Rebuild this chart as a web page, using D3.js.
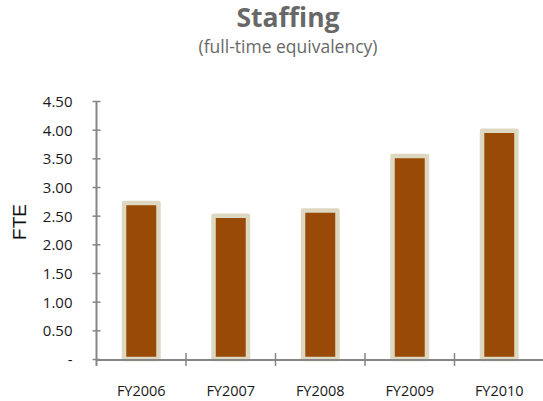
<!DOCTYPE html>
<html>
<head>
<meta charset="utf-8">
<script src="https://cdn.jsdelivr.net/npm/d3@7"></script>
<style>
  html, body { margin: 0; padding: 0; background: #fff; }
  svg { display: block; }
</style>
</head>
<body>
<script>
// Staffing levels by fiscal year, in full-time equivalents
const categories = ["FY2006", "FY2007", "FY2008", "FY2009", "FY2010"];
const fteValues = [2.72, 2.50, 2.59, 3.54, 3.98];
const yTickValues = [0, 0.5, 1, 1.5, 2, 2.5, 3, 3.5, 4, 4.5];

const W = 543, H = 401;
const axisColor = "#868686";
const barFill = "#994a07";
const barEdge = "#ddd8c2";

const svg = d3.select("body").append("svg")
  .attr("width", W).attr("height", H);

const x = d3.scaleBand()
  .domain(categories)
  .range([96.5, 544])
  .paddingInner(0.615)
  .paddingOuter(0.3075);

const y = d3.scaleLinear()
  .domain([0, 4.5])
  .range([359, 101]);

// Title block
svg.append("text")
  .attr("x", 288).attr("y", 27)
  .attr("text-anchor", "middle")
  .attr("font-family", "'Open Sans', sans-serif")
  .attr("font-weight", "bold")
  .attr("font-size", 26.5)
  .attr("fill", "#686868")
  .text("Staffing");

svg.append("text")
  .attr("x", 288).attr("y", 52.5)
  .attr("text-anchor", "middle")
  .attr("font-family", "'Open Sans', sans-serif")
  .attr("font-size", 17.5)
  .attr("fill", "#686868")
  .text("(full-time equivalency)");

// Y-axis title
svg.append("text")
  .attr("transform", "translate(26,222) rotate(-90)")
  .attr("text-anchor", "middle")
  .attr("font-family", "'Liberation Sans', Arial, sans-serif")
  .attr("font-size", 19)
  .attr("fill", "#111")
  .text("FTE");

// Bars: brown fill with a light tan edge
svg.append("g")
  .selectAll("rect")
  .data(fteValues)
  .join("rect")
  .attr("x", (d, i) => x(categories[i]))
  .attr("y", d => y(d))
  .attr("width", x.bandwidth())
  .attr("height", d => y(0) - y(d))
  .attr("fill", barFill)
  .attr("stroke", barEdge)
  .attr("stroke-width", 4.5)
  .attr("stroke-linejoin", "round");

// Y axis with ticks crossing the line
const yAxis = svg.append("g")
  .attr("transform", "translate(96.5,0)")
  .call(d3.axisLeft(y)
    .tickValues(yTickValues)
    .tickSize(4)
    .tickPadding(20)
    .tickFormat(d => d === 0 ? "-" : d3.format(".2f")(d)));
yAxis.select(".domain").remove();
yAxis.selectAll(".tick line")
  .attr("x1", 4).attr("x2", -4)
  .attr("stroke", axisColor).attr("stroke-width", 1.5);
yAxis.selectAll(".tick text")
  .attr("font-family", "'Open Sans', sans-serif")
  .attr("font-size", 15)
  .attr("fill", "#1a1a1a")
  .attr("dy", "0.36em");
svg.append("line")
  .attr("x1", 96.5).attr("x2", 96.5)
  .attr("y1", y(4.5)).attr("y2", 366)
  .attr("stroke", axisColor).attr("stroke-width", 2);

// X axis: labels centred on bars, ticks on category boundaries
const xAxis = svg.append("g")
  .attr("transform", `translate(0,${y(0) + 0.5})`)
  .call(d3.axisBottom(x).tickSize(0).tickPadding(26));
xAxis.select(".domain")
  .attr("stroke", axisColor).attr("stroke-width", 2);
xAxis.selectAll(".tick text")
  .attr("font-family", "'Open Sans', sans-serif")
  .attr("font-size", 14.5)
  .attr("fill", "#1a1a1a");

const step = x.step();
svg.append("g")
  .selectAll("line")
  .data(categories.slice(1))
  .join("line")
  .attr("x1", (d, i) => x(d) - (step - x.bandwidth()) / 2)
  .attr("x2", (d, i) => x(d) - (step - x.bandwidth()) / 2)
  .attr("y1", y(0) - 6).attr("y2", y(0) + 7)
  .attr("stroke", axisColor).attr("stroke-width", 1.5);
</script>
</body>
</html>
